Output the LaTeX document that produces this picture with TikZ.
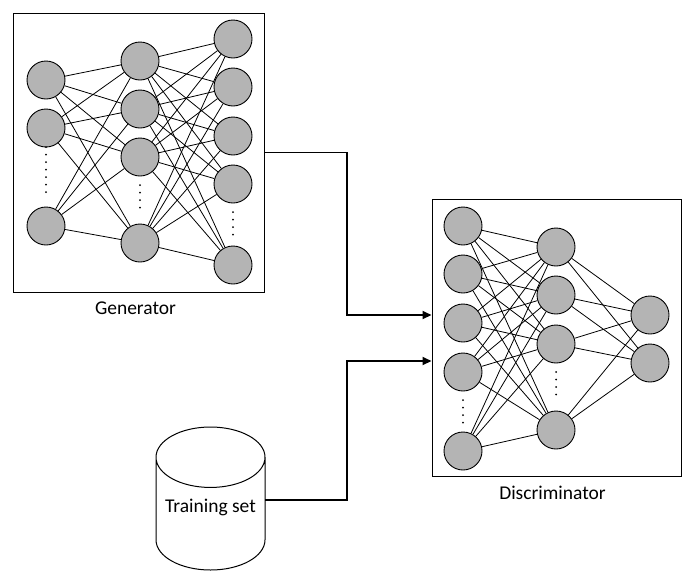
\documentclass[tikz,border=0pt]{standalone}
\usepackage{fontspec}
\setmainfont{Carlito}
\usetikzlibrary{arrows.meta,positioning,shapes.geometric}
\definecolor{neurongray}{RGB}{180,180,180}
\tikzset{
    %Define standard arrow tip
    >={Triangle[length=9pt,width=8pt]},
    %Define style for neurons
    neuron/.style={
           circle,
           draw=black, line width=0.9pt,
           fill=neurongray,
           minimum size=38pt,
           inner sep=0pt},
    %Define style for network boxes
    netbox/.style={
           rectangle,
           draw=black, line width=1pt,
           inner sep=0pt},
    %Define style for the data store
    store/.style={
           cylinder,
           shape border rotate=90,
           aspect=0.62,
           draw=black, line width=1pt,
           fill=white,
           minimum width=109pt,
           minimum height=143pt,
           font=\fontsize{19.5}{22}\selectfont},
    %Define style for box titles
    nettitle/.style={
           inner sep=0pt,
           font=\fontsize{19.5}{22}\selectfont},
    % Define style for weights
    weight/.style={
           line width=0.8pt},
    % Define style for skipped neurons
    skipdots/.style={
           line width=2pt,
           line cap=round,
           dash pattern=on 0pt off 7.5pt},
    % Define arrow style
    feed/.style={
           ->,
           line width=1.8pt}
}

\begin{document}
\begin{tikzpicture}[x=1pt, y=-1pt, node distance=10pt, auto,]
    \useasboundingbox (0,0) rectangle (700,584);
 %boxes
    \node[netbox, minimum width=251pt, minimum height=279pt] (gen) at (138.5,152.5) {};
    \node[netbox, minimum width=249pt, minimum height=277pt] (disc) at (556.5,337.5) {};
    \node[nettitle, below=9pt of gen, xshift=-3pt] (gentitle) {Generator};
    \node[nettitle, below=9pt of disc, xshift=-4pt] (disctitle) {Discriminator};
    \node[store, anchor=shape center] (train) at (210.5,498.5) {\raisebox{27pt}{Training set}};
 %generator neurons
    \foreach \y [count=\i] in {80,128,226}
        \node[neuron] (g1-\i) at (46,\y) {};
    \foreach \y [count=\i] in {61,109,157,243}
        \node[neuron] (g2-\i) at (140,\y) {};
    \foreach \y [count=\i] in {39,87,136,184,265}
        \node[neuron] (g3-\i) at (233,\y) {};
 %discriminator neurons
    \foreach \y [count=\i] in {226,274,323,372,451}
        \node[neuron] (d1-\i) at (463,\y) {};
    \foreach \y [count=\i] in {247,295,344,430}
        \node[neuron] (d2-\i) at (556,\y) {};
    \foreach \y [count=\i] in {315,363}
        \node[neuron] (d3-\i) at (650,\y) {};
 %weights
    \foreach \a in {1,...,3}
        \foreach \b in {1,...,4}
            \draw[weight] (g1-\a) -- (g2-\b);
    \foreach \a in {1,...,4}
        \foreach \b in {1,...,5}
            \draw[weight] (g2-\a) -- (g3-\b);
    \foreach \a in {1,...,5}
        \foreach \b in {1,...,4}
            \draw[weight] (d1-\a) -- (d2-\b);
    \foreach \a in {1,...,4}
        \foreach \b in {1,...,2}
            \draw[weight] (d2-\a) -- (d3-\b);
 %skipped neurons
    \draw[skipdots] (46,147) -- (46,193);
    \draw[skipdots] (140,185) -- (140,213);
    \draw[skipdots] (233,212) -- (233,241);
    \draw[skipdots] (463,400) -- (463,428);
    \draw[skipdots] (556,372) -- (556,399);
 %edges
    \coordinate (bend) at (347,0);
    \coordinate (in1) at ([yshift=22.5pt]disc.west);
    \coordinate (in2) at ([yshift=-23.5pt]disc.west);
    \draw[feed] (gen.east) -- (gen.east -| bend) |- (in1);
    \draw[feed] (train.shape center) ++(54.5pt,-1.5pt) -- (347,500) |- (in2);
\end{tikzpicture}
\end{document}
